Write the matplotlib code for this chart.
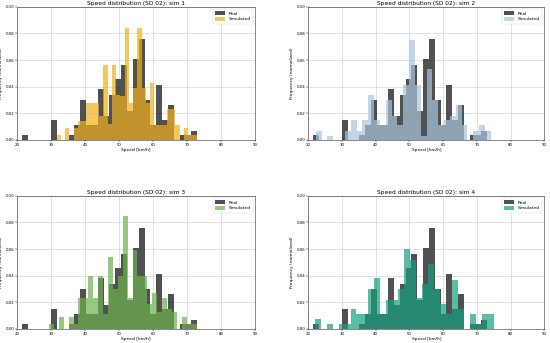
import numpy as np
import matplotlib
matplotlib.use("Agg")
import matplotlib.pyplot as plt

# ---- data (density heights per bin) ----
real_range = (21.3, 73.0)
real_heights = [0.0035, 0, 0, 0, 0, 0.015, 0, 0, 0.0035, 0.011,
                0.030, 0.011, 0.011, 0.038, 0.018, 0.034, 0.046, 0.056, 0.022, 0.061,
                0.076, 0.030, 0.011, 0.041, 0.015, 0.026, 0, 0.0035, 0.0035, 0.007]

sim1_range = (31.6, 72.85)
sim1_heights = [0.0035, 0, 0.009, 0, 0.009, 0.014, 0.014, 0.028, 0.028, 0.028,
                0.018, 0.056, 0.012, 0.056, 0.034, 0.033, 0.084, 0.028, 0.039, 0.084,
                0.039, 0.028, 0.043, 0.011, 0.011, 0.011, 0.023, 0.023, 0.011, 0,
                0.009, 0.0035, 0.0035]

sim2_range = (22.2, 74.1)
sim2_heights = [0.007, 0, 0.0033, 0, 0, 0.007, 0.015, 0.007, 0.015, 0.034,
                0.015, 0.011, 0.030, 0.018, 0.011, 0.041, 0.075, 0.041, 0.0033, 0.053,
                0.030, 0.011, 0.015, 0.018, 0.026, 0.011, 0, 0.007, 0.011, 0.007]

sim3_range = (29.3, 72.8)
sim3_heights = [0.004, 0, 0.009, 0, 0.009, 0.004, 0.023, 0.023, 0.040, 0.023,
                0.040, 0.011, 0.054, 0.030, 0.040, 0.085, 0.023, 0.059, 0.040, 0.040,
                0.019, 0.027, 0.013, 0.023, 0.015, 0.013, 0, 0.009, 0.004, 0.004]

sim4_range = (21.9, 75.0)
sim4_heights = [0.0073, 0, 0.0035, 0, 0.0035, 0.0035, 0.015, 0.011, 0.011, 0.030,
                0.038, 0.011, 0.022, 0.022, 0.030, 0.060, 0.052, 0.023, 0.034, 0.049,
                0.030, 0.019, 0.011, 0.037, 0.015, 0, 0.011, 0.0035, 0.011, 0.011]

titles = ["Speed distribution (SD 02): sim 1", "Speed distribution (SD 02): sim 2",
          "Speed distribution (SD 02): sim 3", "Speed distribution (SD 02): sim 4"]
sim_colors = ["#f2b01e", "#a9c5de", "#6db34a", "#15a07e"]
xticks = [20, 30, 40, 50, 60, 70, 80, 90]
yticks = [0.00, 0.02, 0.04, 0.06, 0.08, 0.10]

sims = [(sim1_range, sim1_heights), (sim2_range, sim2_heights),
        (sim3_range, sim3_heights), (sim4_range, sim4_heights)]

fig = plt.figure(figsize=(5.5, 3.43), dpi=100)
positions = [
    [0.0315, 0.592, 0.432, 0.388],
    [0.5606, 0.592, 0.429, 0.388],
    [0.0315, 0.041, 0.432, 0.388],
    [0.5606, 0.041, 0.429, 0.388],
]

def draw_hist(ax, rng, heights, color, alpha, label):
    edges = np.linspace(rng[0], rng[1], len(heights) + 1)
    ax.hist(edges[:-1], bins=edges, weights=heights, color=color, alpha=alpha,
            label=label, linewidth=0)

for i, (pos, (rng, h)) in enumerate(zip(positions, sims)):
    ax = fig.add_axes(pos)
    ax.set_axisbelow(True)
    ax.grid(True, color="#cccccc", linewidth=0.4)
    draw_hist(ax, real_range, real_heights, "#333333", 0.85, "Real")
    draw_hist(ax, rng, h, sim_colors[i], 0.7, "Simulated")
    ax.set_xlim(20, 90)
    ax.set_ylim(0, 0.10)
    ax.set_xticks(xticks)
    ax.set_yticks(yticks)
    ax.set_yticklabels([f"{v:.2f}" for v in yticks])
    ax.tick_params(labelsize=2.8, length=1.2, width=0.3, pad=1)
    for s in ax.spines.values():
        s.set_linewidth(0.4)
        s.set_color("#333333")
    ax.set_title(titles[i], fontsize=4.2, pad=1.5)
    ax.set_xlabel("Speed [km/h]", fontsize=3.2, labelpad=1)
    ax.set_ylabel("Frequency (normalized)", fontsize=3.2, labelpad=1.5)
    leg = ax.legend(loc="upper right", fontsize=3.2, frameon=True,
                    handlelength=2.2, handleheight=0.9, borderpad=0.5,
                    labelspacing=0.3, fancybox=True)
    leg.get_frame().set_linewidth(0.3)

fig.savefig("out.png", dpi=100)
